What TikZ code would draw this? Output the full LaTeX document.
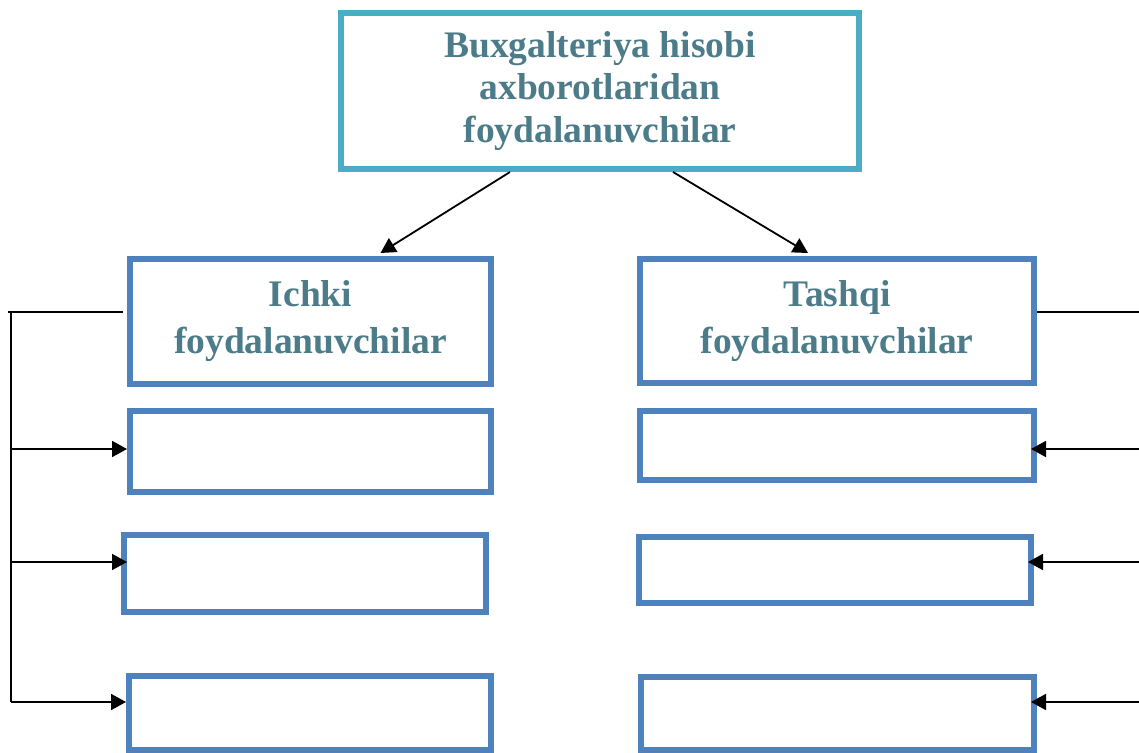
\documentclass[tikz,border=0pt]{standalone}
\usepackage{fontspec}
\setmainfont{Liberation Serif}
\usetikzlibrary{arrows.meta}
\definecolor{topline}{HTML}{4BACC6}
\definecolor{boxline}{HTML}{4F81BD}
\definecolor{labeltext}{HTML}{4C7C8A}

\begin{document}
\begin{tikzpicture}[x=0.5pt, y=-0.5pt,
    user/.style={draw=boxline, line width=3pt, inner sep=0pt, align=center, text=labeltext,
        font=\bfseries\fontsize{18.75pt}{23.5pt}\selectfont},
    link/.style={line width=0.9pt, -{Triangle[length=7.5pt,width=8pt]}}]
    \useasboundingbox (0,0) rectangle (1139,753);
    \node[user, draw=topline, minimum width=259pt, minimum height=78pt,
        font=\bfseries\fontsize{18.75pt}{21.25pt}\selectfont] (top) at (600,91)
        {Buxgalteriya hisobi\\axborotlaridan\\foydalanuvchilar};
    \node[user, minimum width=180.5pt, minimum height=62.5pt] (in1) at (310.5,321.5) {Ichki\\foydalanuvchilar};
    \node[user, minimum width=197pt, minimum height=62pt] (out1) at (837,321) {Tashqi\\foydalanuvchilar};
    \node[user, minimum width=180.5pt, minimum height=40.5pt] (in2) at (310.5,451.5) {};
    \node[user, minimum width=181pt, minimum height=38.5pt] (in3) at (305,573.5) {};
    \node[user, minimum width=181pt, minimum height=37pt] (in4) at (310,713) {};
    \node[user, minimum width=197pt, minimum height=34.5pt] (out2) at (837,445.5) {};
    \node[user, minimum width=196pt, minimum height=33pt] (out3) at (835,570) {};
    \node[user, minimum width=196.5pt, minimum height=36.5pt] (out4) at (837.5,713.5) {};
    \draw[link] ([xshift=-45pt]top.south) -- ([xshift=35pt, yshift=1.5pt]in1.north);
    \draw[link] ([xshift=36.5pt]top.south) -- ([xshift=-14.5pt, yshift=1.5pt]out1.north);
    \coordinate (lb1) at (11,312);
    \coordinate (lb2) at (11,449);
    \coordinate (lb3) at (11,562);
    \coordinate (lb4) at (11,702);
    \coordinate (rb1) at (1139,312);
    \coordinate (rb2) at (1139,449);
    \coordinate (rb3) at (1139,562);
    \coordinate (rb4) at (1139,702);
    \draw[line width=0.9pt] ([xshift=-1.5pt]lb1) -- ([xshift=-2pt]lb1 -| in1.west);
    \draw[line width=0.9pt] (lb1) -- (lb4);
    \draw[link] (lb2) -- (lb2 -| in2.west);
    \draw[link, shorten >=-3pt] (lb3) -- (lb3 -| in3.west);
    \draw[link] (lb4) -- (lb4 -| in4.west);
    \draw[line width=0.9pt] (out1.east |- rb1) -- (rb1);
    \draw[link, shorten >=-3pt] (rb2) -- (rb2 -| out2.east);
    \draw[link, shorten >=-3pt] (rb3) -- (rb3 -| out3.east);
    \draw[link, shorten >=-3pt] (rb4) -- (rb4 -| out4.east);
\end{tikzpicture}
\end{document}
